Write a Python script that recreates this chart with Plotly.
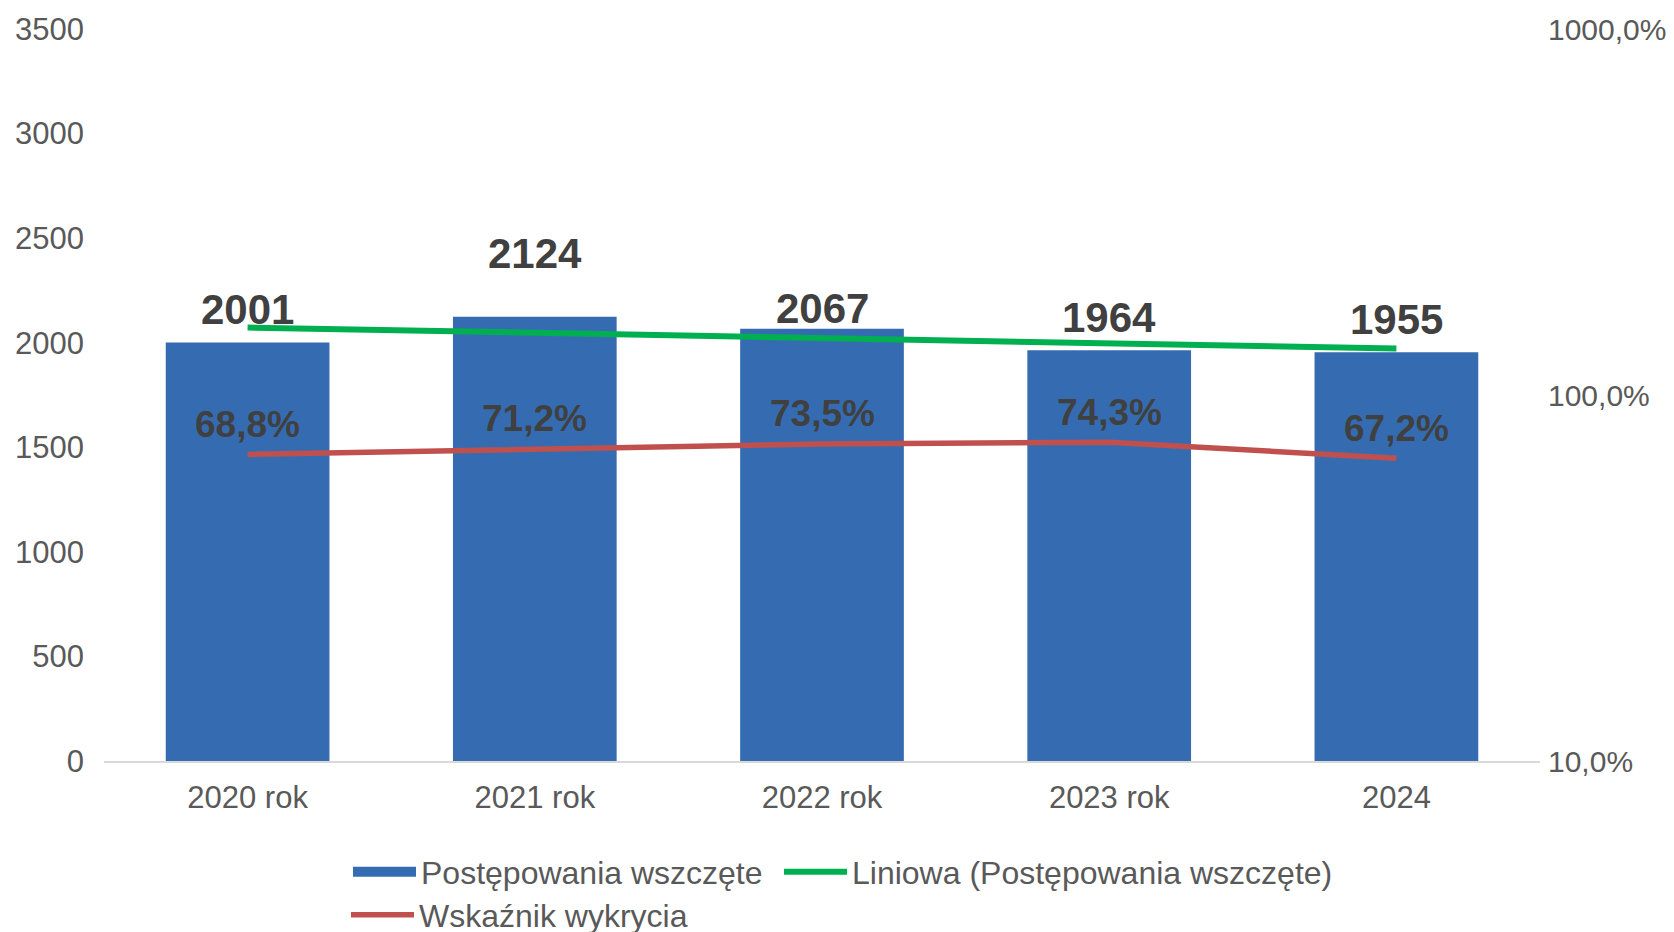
import numpy as np
import plotly.graph_objects as go

categories = ["2020 rok", "2021 rok", "2022 rok", "2023 rok", "2024"]
cases_started = [2001, 2124, 2067, 1964, 1955]
detection_rate = [0.688, 0.712, 0.735, 0.743, 0.672]
detection_labels = ["68,8%", "71,2%", "73,5%", "74,3%", "67,2%"]
left_ticks = [0, 500, 1000, 1500, 2000, 2500, 3000, 3500]
right_tickvals = [0.1, 1, 10]
right_ticktext = ["10,0%", "100,0%", "1000,0%"]

# label offsets (px) above bar tops, as placed in the original chart
bar_label_shift = [33, 63, 20, 33, 33]

FONT = "Liberation Sans, Arial, sans-serif"
GREY = "#595959"
DARK = "#404040"
BAR = "#356CB1"
GREEN = "#00B050"
RED = "#C0504D"

xi = np.arange(len(categories))
slope, intercept = np.polyfit(xi, cases_started, 1)
trend = intercept + slope * xi

fig = go.Figure()
fig.add_trace(go.Bar(x=categories, y=cases_started, marker=dict(color=BAR, line=dict(width=0)),
                     width=0.57, showlegend=False, name="Postępowania wszczęte"))
# legend proxy for the bar series (rectangular swatch)
fig.add_trace(go.Scatter(x=[categories[0]], y=[None], mode="lines", line=dict(color=BAR, width=17),
                         name="Postępowania wszczęte", legend="legend"))
fig.add_trace(go.Scatter(x=categories, y=trend, mode="lines", line=dict(color=GREEN, width=6),
                         name="Liniowa (Postępowania wszczęte)", legend="legend3"))
fig.add_trace(go.Scatter(x=categories, y=detection_rate, mode="lines", line=dict(color=RED, width=5.5),
                         name="Wskaźnik wykrycia", yaxis="y2", legend="legend2"))

# annotations on a category axis are placed by category index
for i, (v, s) in enumerate(zip(cases_started, bar_label_shift)):
    fig.add_annotation(x=i, y=v, xref="x", yref="y", text=str(v), showarrow=False,
                       yanchor="middle", yshift=s, font=dict(family=FONT, size=42, color=DARK, weight="bold"))
for i, (v, t) in enumerate(zip(detection_rate, detection_labels)):
    fig.add_annotation(x=i, y=np.log10(v), xref="x", yref="y2", text=t, showarrow=False,
                       yanchor="middle", yshift=30, font=dict(family=FONT, size=37, color=DARK, weight="bold"))

legend_common = dict(orientation="h", xanchor="left", yanchor="middle", itemwidth=63,
                     font=dict(family=FONT, size=32, color=GREY), bgcolor="rgba(0,0,0,0)",
                     itemclick=False, itemdoubleclick=False)

fig.update_layout(
    width=1666, height=924,
    margin=dict(l=96, r=134, t=21, b=171, autoexpand=False),
    paper_bgcolor="white", plot_bgcolor="white",
    font=dict(family=FONT, size=31, color=GREY),
    bargap=0.43,
    xaxis=dict(type="category", autotypenumbers="strict", categoryorder="array", categoryarray=categories,
               range=[-0.5, len(categories) - 0.5],
               showline=True, linecolor="#D9D9D9", linewidth=2, showgrid=False, ticks="",
               ticklabelstandoff=8, tickfont=dict(family=FONT, size=31, color=GREY)),
    yaxis=dict(range=[0, 3500], tickvals=left_ticks, showgrid=False, zeroline=False, ticks="",
               showline=False, ticklabelstandoff=19, tickfont=dict(family=FONT, size=31, color=GREY)),
    yaxis2=dict(type="log", range=[-1, 1], overlaying="y", side="right", tickvals=right_tickvals,
                ticktext=right_ticktext, showgrid=False, zeroline=False, ticks="", showline=False,
                ticklabelstandoff=7, tickfont=dict(family=FONT, size=30, color=GREY)),
    legend=dict(x=(348 - 104) / 1436, y=(761 - 872) / 732, **legend_common),
    legend3=dict(x=(779 - 104) / 1436, y=(761 - 872) / 732, **legend_common),
    legend2=dict(x=(346 - 104) / 1436, y=(761 - 915) / 732, **legend_common),
)

fig.write_html("out.html")
